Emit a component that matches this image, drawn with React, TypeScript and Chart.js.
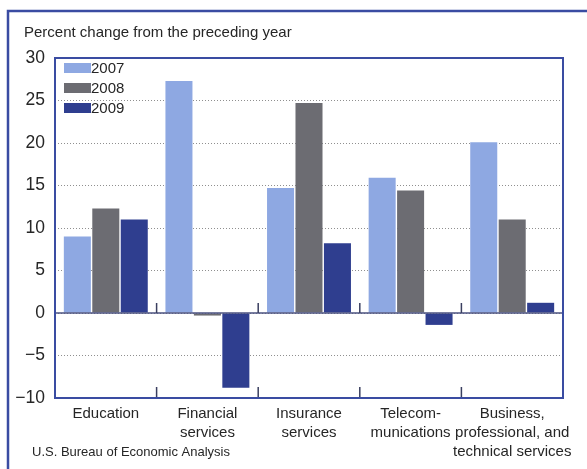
import React, { useEffect, useRef } from "react";
import { Chart, registerables } from "chart.js";

Chart.register(...registerables);

const categories: string[][] = [
  ["Education"],
  ["Financial", "services"],
  ["Insurance", "services"],
  ["Telecom-", "munications"],
  ["Business,", "professional, and", "technical services"],
];
const years = ["2007", "2008", "2009"];
const values2007 = [9.0, 27.3, 14.7, 15.9, 20.1];
const values2008 = [12.3, -0.3, 24.7, 14.4, 11.0];
const values2009 = [11.0, -8.8, 8.2, -1.4, 1.2];
const colors = ["#8ea8e2", "#6c6c72", "#2f3e8f"];
const yMin = -10;
const yMax = 30;
const yStep = 5;
const titleText = "Percent change from the preceding year";
const sourceText = "U.S. Bureau of Economic Analysis";

const FONT = "'Liberation Sans', Arial, sans-serif";
const TEXT = "#262626";
const BLUE = "#3a4ca2";

const decorPlugin = {
  id: "decor",
  afterDraw(chart: any) {
    const { ctx, chartArea } = chart;
    const x = chart.scales.x;
    const y = chart.scales.y;
    ctx.save();
    // outer frame
    ctx.strokeStyle = BLUE;
    ctx.lineWidth = 2.5;
    ctx.strokeRect(8, 11, 620, 500);
    // zero line
    const y0 = y.getPixelForValue(0);
    ctx.strokeStyle = "#4b5280";
    ctx.lineWidth = 1.5;
    ctx.beginPath();
    ctx.moveTo(chartArea.left, y0);
    ctx.lineTo(chartArea.right, y0);
    ctx.stroke();
    // category boundary ticks
    ctx.lineWidth = 1.5;
    ctx.strokeStyle = "#3a3f60";
    const n = categories.length;
    for (let i = 1; i < n; i++) {
      const bx = (x.getPixelForValue(i - 1) + x.getPixelForValue(i)) / 2;
      ctx.beginPath();
      ctx.moveTo(bx, y0);
      ctx.lineTo(bx, y0 - 10);
      ctx.moveTo(bx, chartArea.bottom);
      ctx.lineTo(bx, chartArea.bottom - 11);
      ctx.stroke();
    }
    // plot border
    ctx.strokeStyle = BLUE;
    ctx.lineWidth = 2;
    ctx.strokeRect(
      chartArea.left,
      chartArea.top,
      chartArea.right - chartArea.left,
      chartArea.bottom - chartArea.top
    );
    // legend
    ctx.font = `15px ${FONT}`;
    ctx.textBaseline = "middle";
    ctx.textAlign = "left";
    chart.data.datasets.forEach((ds: any, i: number) => {
      const cy = chartArea.top + 10 + i * 20;
      ctx.fillStyle = ds.backgroundColor;
      ctx.fillRect(chartArea.left + 9, cy - 5, 27, 10);
      ctx.fillStyle = TEXT;
      ctx.fillText(ds.label, chartArea.left + 36, cy + 1);
    });
    // title
    ctx.font = `15px ${FONT}`;
    ctx.fillStyle = TEXT;
    ctx.fillText(titleText, 24, 33);
    // source
    ctx.font = `13px ${FONT}`;
    ctx.fillText(sourceText, 32, 452);
    ctx.restore();
  },
};

export default function App() {
  const ref = useRef<HTMLCanvasElement>(null);
  useEffect(() => {
    const canvas = ref.current;
    if (!canvas) return;
    const chart = new Chart(canvas, {
      type: "bar",
      data: {
        labels: categories,
        datasets: [
          { label: years[0], data: values2007, backgroundColor: colors[0] },
          { label: years[1], data: values2008, backgroundColor: colors[1] },
          { label: years[2], data: values2009, backgroundColor: colors[2] },
        ],
      },
      options: {
        animation: false,
        responsive: false,
        maintainAspectRatio: false,
        layout: { padding: { left: 0, right: 24, top: 58, bottom: 0 } },
        plugins: {
          legend: { display: false },
          tooltip: { enabled: false },
          title: { display: false },
        },
        datasets: {
          bar: { categoryPercentage: 0.84, barPercentage: 0.95 },
        },
        scales: {
          x: {
            grid: { display: false, drawTicks: false },
            border: { display: false },
            ticks: {
              color: TEXT,
              font: { family: FONT, size: 15, lineHeight: 1.27 },
              padding: 6,
              maxRotation: 0,
              autoSkip: false,
            },
            afterFit(scale: any) {
              scale.height = 71;
            },
          },
          y: {
            min: yMin,
            max: yMax,
            grid: {
              color: "#8f8f8f",
              lineWidth: 1,
              drawTicks: false,
            },
            border: { display: false, dash: [1, 2] },
            ticks: {
              stepSize: yStep,
              color: TEXT,
              font: { family: FONT, size: 17.5 },
              padding: 10,
              callback: (v: any) => (Number(v) < 0 ? "\u2212" + Math.abs(Number(v)) : String(v)),
            },
            afterFit(scale: any) {
              scale.width = 55;
            },
          },
        },
      },
      plugins: [decorPlugin],
    });
    return () => chart.destroy();
  }, []);
  return (
    <div style={{ position: "absolute", left: 0, top: 0, width: 587, height: 469, background: "#fff" }}>
      <canvas ref={ref} width={587} height={469} style={{ display: "block" }} />
    </div>
  );
}
